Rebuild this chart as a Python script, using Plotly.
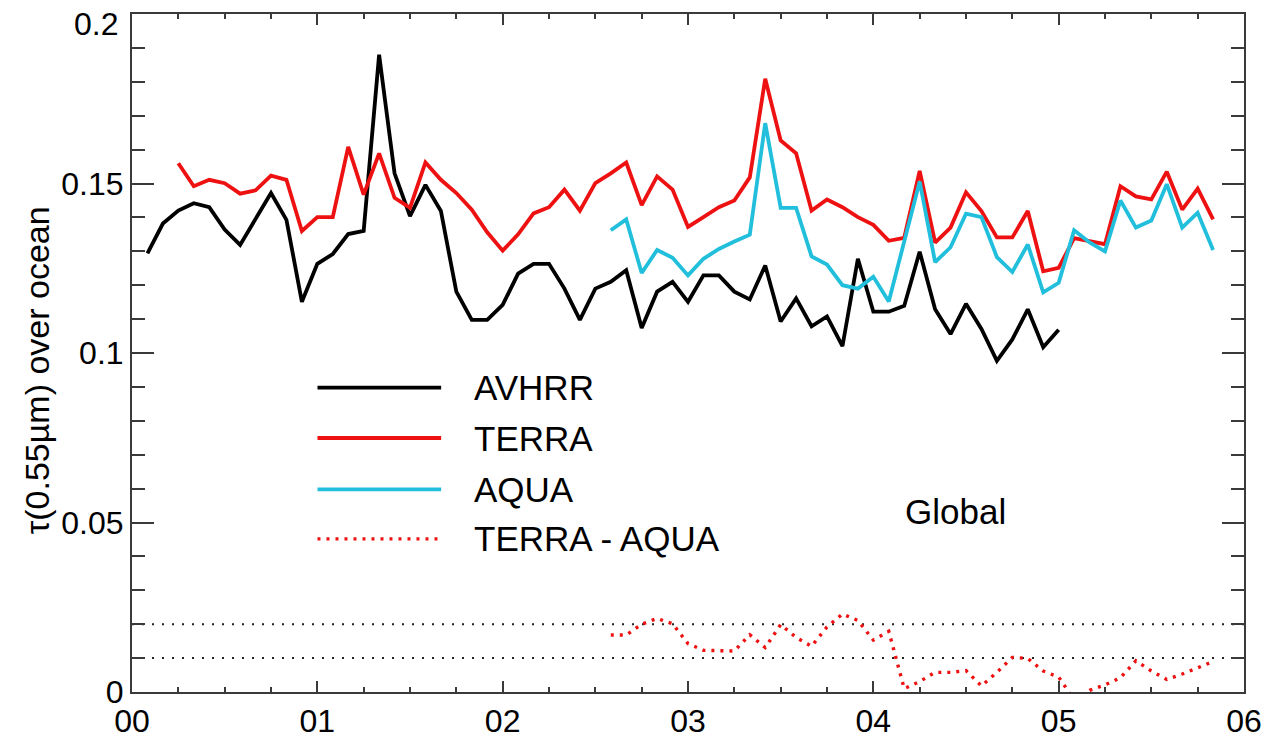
import plotly.graph_objects as go

# Monthly global-mean aerosol optical depth over ocean (month 1 = Jan 2000)
avhrr_months = list(range(1, 61))
avhrr_tau = [
    0.1294, 0.1382, 0.1420, 0.1442, 0.1430, 0.1364, 0.1319, 0.1394, 0.1472, 0.1393,
    0.1151, 0.1263, 0.1292, 0.1351, 0.1360, 0.1880, 0.1530, 0.1404, 0.1496, 0.1419,
    0.1181, 0.1098, 0.1098, 0.1142, 0.1234, 0.1263, 0.1263, 0.1190, 0.1098, 0.1190,
    0.1210, 0.1244, 0.1074, 0.1181, 0.1210, 0.1151, 0.1229, 0.1229, 0.1181, 0.1158,
    0.1258, 0.1093, 0.1161, 0.1079, 0.1108, 0.1020, 0.1278, 0.1122, 0.1122, 0.1139,
    0.1299, 0.1129, 0.1056, 0.1145, 0.1071, 0.0977, 0.1040, 0.1129, 0.1017, 0.1069,
]

terra_months = list(range(3, 71))
terra_tau = [
    0.1560, 0.1492, 0.1511, 0.1501, 0.1470, 0.1480, 0.1523, 0.1511, 0.1360, 0.1401,
    0.1401, 0.1608, 0.1467, 0.1589, 0.1458, 0.1428, 0.1562, 0.1511, 0.1472, 0.1423,
    0.1356, 0.1302, 0.1350, 0.1412, 0.1430, 0.1482, 0.1420, 0.1501, 0.1530, 0.1562,
    0.1436, 0.1521, 0.1482, 0.1372, 0.1401, 0.1430, 0.1450, 0.1518, 0.1809, 0.1627,
    0.1589, 0.1420, 0.1453, 0.1430, 0.1401, 0.1378, 0.1331, 0.1340, 0.1537, 0.1326,
    0.1370, 0.1474, 0.1419, 0.1341, 0.1341, 0.1419, 0.1241, 0.1251, 0.1339, 0.1331,
    0.1321, 0.1492, 0.1462, 0.1453, 0.1535, 0.1423, 0.1485, 0.1394,
]

aqua_months = list(range(31, 71))
aqua_tau = [
    0.1362, 0.1394, 0.1236, 0.1304, 0.1281, 0.1229, 0.1278, 0.1307, 0.1329, 0.1349,
    0.1678, 0.1428, 0.1428, 0.1285, 0.1261, 0.1200, 0.1190, 0.1225, 0.1152, 0.1330,
    0.1506, 0.1268, 0.1312, 0.1411, 0.1401, 0.1283, 0.1239, 0.1320, 0.1179, 0.1207,
    0.1362, 0.1326, 0.1300, 0.1450, 0.1370, 0.1391, 0.1498, 0.1370, 0.1414, 0.1304,
]

diff_months = list(range(31, 71))
terra_minus_aqua = [
    0.0168, 0.0168, 0.0200, 0.0217, 0.0201, 0.0143, 0.0123, 0.0123, 0.0121, 0.0169,
    0.0131, 0.0199, 0.0161, 0.0135, 0.0192, 0.0230, 0.0211, 0.0153, 0.0179, 0.0010,
    0.0031, 0.0058, 0.0058, 0.0063, 0.0018, 0.0058, 0.0102, 0.0099, 0.0062, 0.0044,
    -0.0023, 0.0005, 0.0021, 0.0042, 0.0092, 0.0062, 0.0037, 0.0053, 0.0071, 0.0090,
]

reference_levels = [0.01, 0.02]

x_tick_vals = [0, 1, 2, 3, 4, 5, 6]
x_tick_text = ["00", "01", "02", "03", "04", "05", "06"]
y_tick_vals = [0, 0.05, 0.1, 0.15, 0.2]
y_tick_text = ["0", "0.05", "0.1", "0.15", "0.2"]

legend_entries = [
    ("AVHRR", "#000000", "solid"),
    ("TERRA", "#EE1111", "solid"),
    ("AQUA", "#22BFDD", "solid"),
    ("TERRA - AQUA", "#EE1111", "3px,6px"),
]

FONT = "Liberation Sans, Arial, Helvetica, sans-serif"
LW = 3.8
TICK_FONT = dict(family=FONT, size=32, color="#000000")


def years(months):
    # month index -> years since Jan 2000 (month 12 ends at 1.0)
    return [m / 12.0 for m in months]


fig = go.Figure()

fig.add_trace(go.Scatter(x=years(avhrr_months), y=avhrr_tau, mode="lines",
                         line=dict(color="#000000", width=LW), name="AVHRR"))
fig.add_trace(go.Scatter(x=years(terra_months), y=terra_tau, mode="lines",
                         line=dict(color="#EE1111", width=LW), name="TERRA"))
fig.add_trace(go.Scatter(x=years(aqua_months), y=aqua_tau, mode="lines",
                         line=dict(color="#22BFDD", width=LW), name="AQUA"))
fig.add_trace(go.Scatter(x=years(diff_months), y=terra_minus_aqua, mode="lines",
                         line=dict(color="#EE1111", width=3.4, dash="3px,6px"),
                         name="TERRA - AQUA"))

# dotted reference levels across the full width
for lvl in reference_levels:
    fig.add_shape(type="line", xref="paper", yref="y", x0=0, x1=1, y0=lvl, y1=lvl,
                  line=dict(color="#222222", width=2, dash="2px,8px"), layer="below")

# hand-drawn legend with long sample lines
leg_y = [0.449, 0.3746, 0.2988, 0.2259]
for (label, color, dash), yy in zip(legend_entries, leg_y):
    fig.add_shape(type="line", xref="paper", yref="paper", x0=0.1668, x1=0.2780,
                  y0=yy, y1=yy, line=dict(color=color, width=LW if dash == "solid" else 3.4,
                                          dash=dash))
    fig.add_annotation(xref="paper", yref="paper", x=0.3058, y=yy, text=label,
                       showarrow=False, xanchor="left", yanchor="middle",
                       font=dict(family=FONT, size=35, color="#000000"))

fig.add_annotation(xref="paper", yref="paper", x=0.7408, y=0.2668, text="Global",
                   showarrow=False, xanchor="center", yanchor="middle",
                   font=dict(family=FONT, size=35, color="#000000"))

fig.add_annotation(xref="paper", yref="paper", x=-0.0852, y=0.475,
                   text="τ(0.55µm) over ocean", textangle=-90, showarrow=False,
                   xanchor="center", yanchor="middle",
                   font=dict(family=FONT, size=34, color="#000000"))

# the top label sits just inside the frame, below the 0.2 tick
top_label = y_tick_text[-1]
fig.add_annotation(xref="paper", yref="y", x=0, y=y_tick_vals[-1], text=top_label,
                   showarrow=False, xanchor="right", yanchor="middle", xshift=-12,
                   yshift=-10, font=TICK_FONT)
axis_y_text = y_tick_text[:-1] + [""]

axis_common = dict(showgrid=False, zeroline=False, showline=True, linecolor="#3a3a3a",
                   linewidth=2, mirror="allticks", ticks="inside", tickcolor="#3a3a3a",
                   tickwidth=2, tickfont=TICK_FONT)

fig.update_xaxes(range=[0, 6], tickvals=x_tick_vals, ticktext=x_tick_text, ticklen=11,
                 minor=dict(ticks="inside", dtick=0.25, ticklen=5, tickcolor="#3a3a3a",
                            tickwidth=2),
                 **axis_common)
fig.update_yaxes(range=[0, 0.20001], tickvals=y_tick_vals, ticktext=axis_y_text, ticklen=22,
                 minor=dict(ticks="inside", dtick=0.01, ticklen=13, tickcolor="#3a3a3a",
                            tickwidth=2),
                 **axis_common)

fig.update_layout(width=1274, height=751, margin=dict(l=132, r=27, t=14, b=51),
                  paper_bgcolor="white", plot_bgcolor="white", showlegend=False)

fig.write_html("out.html")
